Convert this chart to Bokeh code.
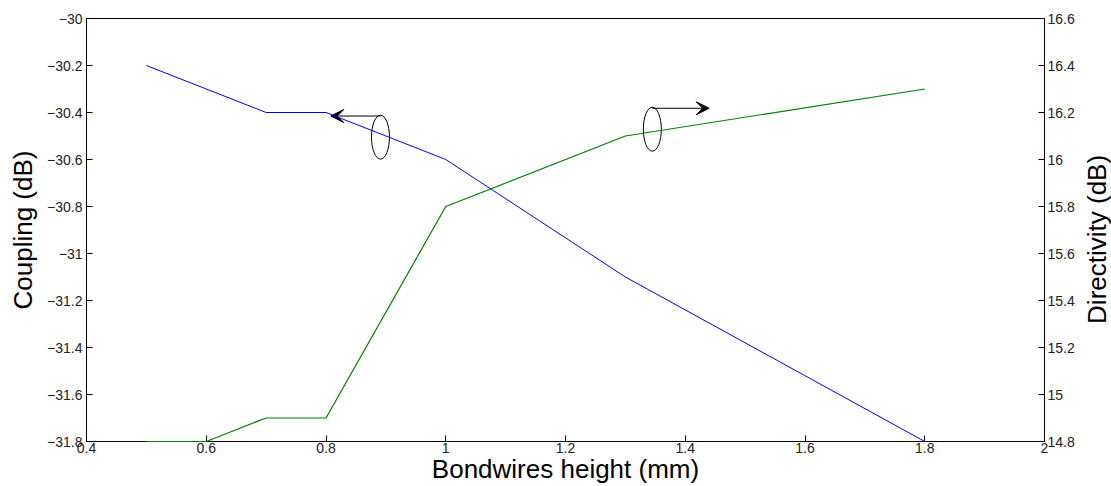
import math
from bokeh.plotting import figure
from bokeh.models import Range1d, LinearAxis, FixedTicker, Arrow, VeeHead, Label
from bokeh.embed import file_html
from bokeh.resources import INLINE

height_mm = [0.5, 0.7, 0.8, 1.0, 1.3, 1.8]
coupling_db = [-30.2, -30.4, -30.4, -30.6, -31.1, -31.8]

height_dir = [0.5, 0.6, 0.7, 0.8, 1.0, 1.3, 1.8]
directivity_db = [14.8, 14.8, 14.9, 14.9, 15.8, 16.1, 16.3]

x_ticks = [0.4, 0.6, 0.8, 1.0, 1.2, 1.4, 1.6, 1.8, 2.0]
left_ticks = [-31.8, -31.6, -31.4, -31.2, -31.0, -30.8, -30.6, -30.4, -30.2, -30.0]
right_ticks = [14.8, 15.0, 15.2, 15.4, 15.6, 15.8, 16.0, 16.2, 16.4, 16.6]

FONT = "Liberation Sans"

p = figure(width=1111, height=486, output_backend="svg", toolbar_location=None,
           x_range=Range1d(0.4, 2.0), y_range=Range1d(-31.8, -30.0),
           min_border_left=86, min_border_right=67, min_border_top=18, min_border_bottom=30)
p.extra_y_ranges = {"dir": Range1d(14.8, 16.6)}
p.grid.visible = False
p.outline_line_color = "black"
p.outline_line_width = 1
p.background_fill_color = "white"

p.line(height_mm, coupling_db, line_color="#0000ff", line_width=1, level="overlay")
p.line(height_dir, directivity_db, line_color="#008000", line_width=1.2,
       y_range_name="dir", level="overlay")

# annotation ellipses and arrows
p.ellipse(x=[0.891], y=[-30.505], width=0.030, height=0.187, fill_alpha=0,
          line_color="black", line_width=1)
p.ellipse(x=[1.345], y=[16.129], width=0.030, height=0.187, fill_alpha=0,
          line_color="black", line_width=1, y_range_name="dir")
p.add_layout(Arrow(end=VeeHead(size=13, fill_color="black", line_color="black"),
                   x_start=0.891, y_start=-30.415, x_end=0.808, y_end=-30.415,
                   line_color="black", line_width=1))
p.add_layout(Arrow(end=VeeHead(size=13, fill_color="black", line_color="black"),
                   x_start=1.345, y_start=16.218, x_end=1.44, y_end=16.218,
                   line_color="black", line_width=1, y_range_name="dir"))

def style(ax, ticks):
    ax.ticker = FixedTicker(ticks=ticks)
    ax.major_tick_in = 6
    ax.major_tick_out = 0
    ax.minor_tick_in = 0
    ax.minor_tick_out = 0
    ax.axis_line_color = "black"
    ax.major_tick_line_color = "black"
    ax.major_label_text_font = FONT
    ax.major_label_text_font_size = "14px"
    ax.major_label_text_color = "#222222"
    ax.axis_label_text_font = FONT
    ax.axis_label_text_font_size = "26px"
    ax.axis_label_text_font_style = "normal"
    ax.axis_label_text_color = "black"

xa = p.xaxis[0]
style(xa, x_ticks)
xa.axis_label = "Bondwires height (mm)"
xa.major_label_standoff = 1
xa.axis_label_standoff = -2

ya = p.yaxis[0]
style(ya, left_ticks)
ya.axis_label = "Coupling (dB)"
ya.major_label_standoff = 4
ya.axis_label_standoff = 6

ra = LinearAxis(y_range_name="dir")
style(ra, right_ticks)
ra.major_label_standoff = 3
p.add_layout(ra, "right")

p.add_layout(Label(x=2.088, y=15.66, y_range_name="dir", text="Directivity (dB)",
                   angle=math.pi / 2, text_align="center", text_baseline="middle",
                   text_font=FONT, text_font_size="26px", text_color="black"), "right")

open("out.html", "w").write(file_html(p, INLINE))
